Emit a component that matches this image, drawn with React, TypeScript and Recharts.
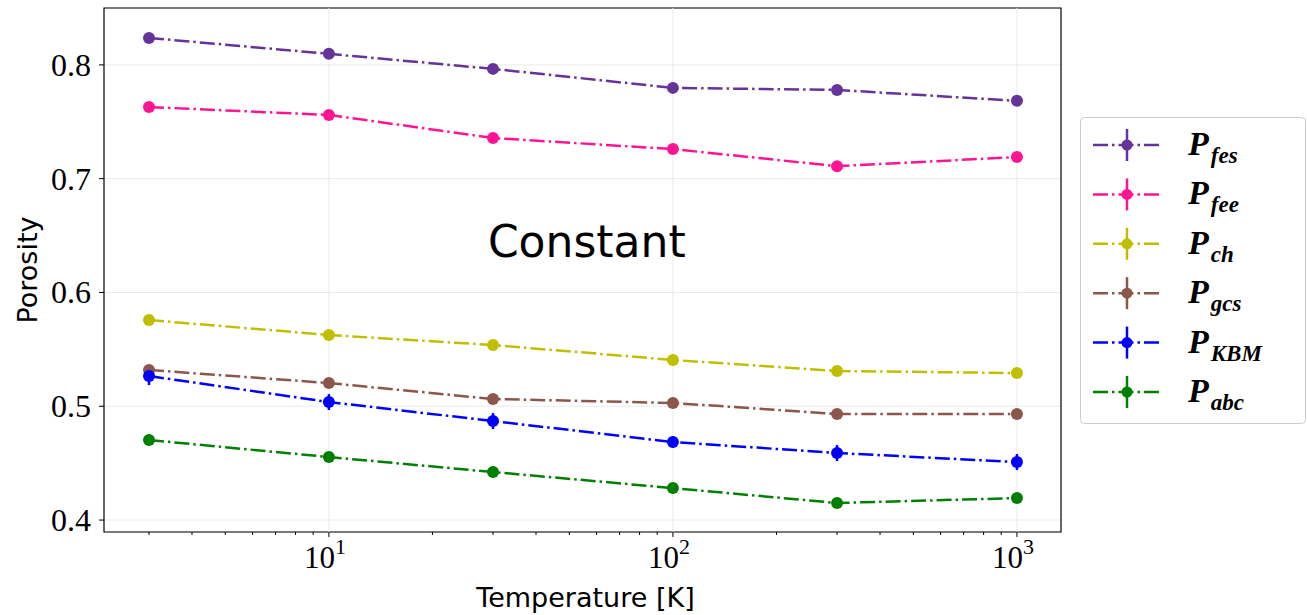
import React from 'react';
import {
  LineChart, Line, XAxis, YAxis, CartesianGrid, ErrorBar, ReferenceLine,
  ReferenceArea, ReferenceDot, Legend,
} from 'recharts';

const temperatures = [3, 10, 30, 100, 300, 1000];

const fesValues = [0.8237, 0.8097, 0.7965, 0.7798, 0.778, 0.7684];
const fesErrors = [0.002, 0.002, 0.002, 0.002, 0.003, 0.002];
const feeValues = [0.763, 0.756, 0.7358, 0.726, 0.711, 0.719];
const feeErrors = [0.002, 0.002, 0.002, 0.002, 0.002, 0.002];
const chValues = [0.5758, 0.5626, 0.5538, 0.5407, 0.531, 0.5292];
const chErrors = [0.002, 0.002, 0.002, 0.002, 0.002, 0.002];
const gcsValues = [0.5319, 0.5204, 0.5064, 0.5029, 0.4932, 0.4932];
const gcsErrors = [0.002, 0.002, 0.002, 0.002, 0.002, 0.002];
const kbmValues = [0.5266, 0.5037, 0.487, 0.4686, 0.4589, 0.451];
const kbmErrors = [0.008, 0.007, 0.007, 0.005, 0.007, 0.007];
const abcValues = [0.4703, 0.4554, 0.4422, 0.4281, 0.415, 0.4193];
const abcErrors = [0.004, 0.003, 0.004, 0.002, 0.002, 0.003];

const seriesNames = ['fes', 'fee', 'ch', 'gcs', 'KBM', 'abc'];
const seriesColors = ['#663399', '#ff1493', '#bfbf00', '#8c564b', '#0000ff', '#008000'];
const seriesValues = [fesValues, feeValues, chValues, gcsValues, kbmValues, abcValues];
const seriesErrors = [fesErrors, feeErrors, chErrors, gcsErrors, kbmErrors, abcErrors];

const xDomain = [2.22, 1343];
const yDomain = [0.3895, 0.85];
const yTicks = [0.4, 0.5, 0.6, 0.7, 0.8];
const xMajorTicks = [10, 100, 1000];
const xMinorTicks = [3, 4, 5, 6, 7, 8, 9, 20, 30, 40, 50, 60, 70, 80, 90, 200, 300, 400, 500, 600, 700, 800, 900];
const xAllTicks = [...xMinorTicks, ...xMajorTicks].sort((a, b) => a - b);

const annotationText = 'Constant';
const annotationPos = { x: 56.2, y: 0.6453 };

const series = seriesNames.map((name, i) => ({
  name,
  color: seriesColors[i],
  data: temperatures.map((T, j) => ({ T, y: seriesValues[i][j], err: seriesErrors[i][j] })),
}));

const SERIF = '"Liberation Serif", "DejaVu Serif", serif';
const SANS = '"DejaVu Sans", sans-serif';
const DASH = '15 4 2.5 4';
const LW = 2.5;

const XTick = (props: any) => {
  const { x, y, payload } = props;
  const v = payload.value;
  const major = xMajorTicks.includes(v);
  const exp = Math.round(Math.log10(v));
  return (
    <g>
      <line x1={x} x2={x} y1={y} y2={y + (major ? 5 : 3)} stroke="#000" strokeWidth={1} />
      {major && (
        <text x={x - 4} y={y + 36} textAnchor="middle" fontFamily={SERIF} fontSize={31} fill="#000">
          10
          <tspan dy={-14} fontSize={22}>{exp}</tspan>
        </text>
      )}
    </g>
  );
};

const YTick = (props: any) => {
  const { x, y, payload } = props;
  return (
    <text x={x} y={y + 11} textAnchor="end" fontFamily={SERIF} fontSize={32} fill="#000">
      {payload.value.toFixed(1)}
    </text>
  );
};

const LegendContent = () => {
  const w = 226;
  const h = 307;
  return (
    <svg width={w} height={h} style={{ display: 'block' }}>
      <rect x={0.5} y={0.5} width={w - 1} height={h - 1} rx={4} ry={4} fill="#fff" stroke="#cccccc" strokeWidth={1} />
      {series.map((s, i) => {
        const cy = 28 + i * 49.4;
        return (
          <g key={s.name}>
            <line x1={13} x2={82} y1={cy} y2={cy} stroke={s.color} strokeWidth={LW} strokeDasharray={DASH} />
            <line x1={47} x2={47} y1={cy - 16} y2={cy + 16} stroke={s.color} strokeWidth={LW} />
            <circle cx={47} cy={cy} r={5.5} fill={s.color} />
            <text x={108} y={cy + 10} fontFamily={SERIF} fontStyle="italic" fontWeight="bold" fontSize={34} fill="#000">
              P
              <tspan dy={8} dx={2} fontSize={23}>{s.name}</tspan>
            </text>
          </g>
        );
      })}
    </svg>
  );
};

export default function App() {
  return (
    <div style={{ position: 'absolute', left: 0, top: 0, width: 1307, height: 615, background: '#fff' }}>
      <LineChart width={1307} height={615} margin={{ top: 8, right: 246, bottom: 8, left: 40 }}>
        <CartesianGrid vertical={false} stroke="#ebebeb" strokeWidth={1} />
        {xMajorTicks.map((t) => (
          <ReferenceLine key={t} x={t} stroke="#ebebeb" strokeWidth={1} />
        ))}
        <XAxis
          dataKey="T"
          type="number"
          scale="log"
          domain={xDomain}
          allowDataOverflow
          ticks={xAllTicks}
          interval={0}
          tick={<XTick />}
          tickLine={false}
          axisLine={false}
          tickSize={0}
          tickMargin={0}
          height={75}
          label={{
            content: (p: any) => {
              const vb = p.viewBox;
              return (
                <text x={vb.x + vb.width / 2 + 3} y={vb.y + 75} textAnchor="middle" fontFamily={SANS} fontSize={27} fill="#000">
                  Temperature [K]
                </text>
              );
            },
          }}
        />
        <YAxis
          type="number"
          domain={yDomain}
          allowDataOverflow
          ticks={yTicks}
          interval={0}
          width={64}
          axisLine={false}
          tickLine={{ stroke: '#000' }}
          tickSize={5}
          tickMargin={8}
          tick={<YTick />}
          label={{
            content: (p: any) => {
              const vb = p.viewBox;
              const cx = vb.x - 13;
              const cy = vb.y + vb.height / 2 + 0;
              return (
                <text x={cx} y={cy} transform={`rotate(-90 ${cx} ${cy})`} textAnchor="middle" dominantBaseline="central" fontFamily={SANS} fontSize={27} fill="#000">
                  Porosity
                </text>
              );
            },
          }}
        />
        <ReferenceArea x1={xDomain[0]} x2={xDomain[1]} y1={yDomain[0]} y2={yDomain[1]} fill="none" stroke="#000" strokeWidth={1.2} ifOverflow="visible" />
        <ReferenceDot
          x={annotationPos.x}
          y={annotationPos.y}
          r={0}
          fill="none"
          stroke="none"
          label={{
            content: (p: any) => {
              const vb = p.viewBox;
              return (
                <text x={vb.x} y={vb.y + 16} textAnchor="middle" fontFamily={SANS} fontSize={44} fill="#000">
                  {annotationText}
                </text>
              );
            },
          }}
        />
        {series.map((s) => (
          <Line
            key={s.name}
            name={s.name}
            data={s.data}
            dataKey="y"
            stroke={s.color}
            strokeWidth={LW}
            strokeDasharray={DASH}
            dot={{ r: 6, fill: s.color, stroke: 'none', strokeDasharray: '' }}
            activeDot={false}
            isAnimationActive={false}
          >
            <ErrorBar dataKey="err" direction="y" width={0} stroke={s.color} strokeWidth={LW} />
          </Line>
        ))}
        <Legend
          layout="vertical"
          align="center"
          verticalAlign="middle"
          content={<LegendContent />}
          wrapperStyle={{ position: 'absolute', left: 1080, top: 117, width: 226, height: 307 }}
        />
      </LineChart>
    </div>
  );
}
